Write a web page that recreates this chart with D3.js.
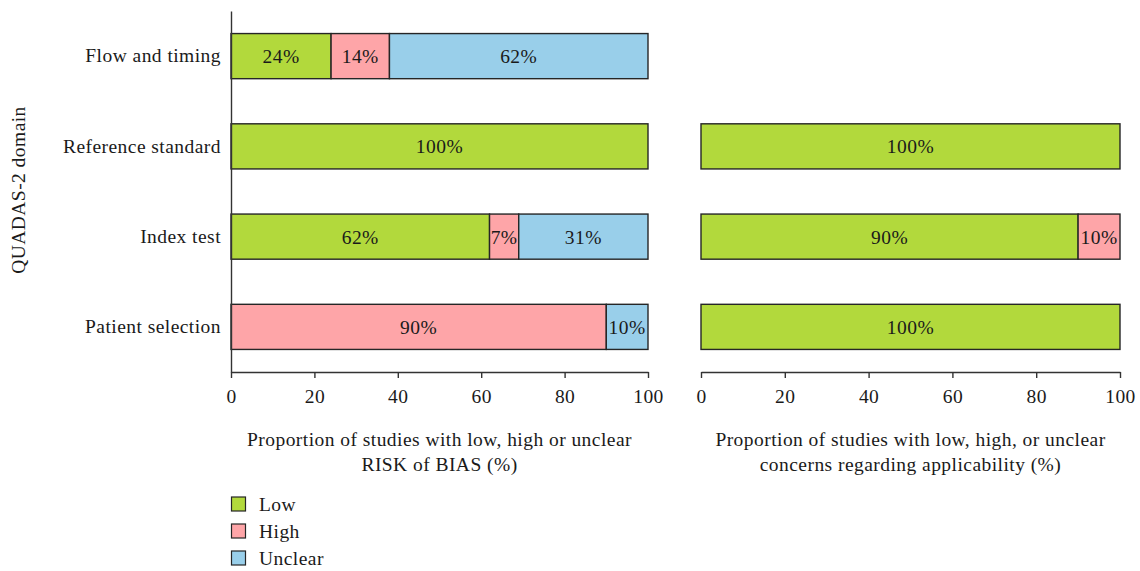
<!DOCTYPE html>
<html>
<head>
<meta charset="utf-8">
<script src="https://cdn.jsdelivr.net/npm/d3@7"></script>
<style>
  html, body { margin: 0; padding: 0; background: #fff; }
  svg { display: block; }
  svg text { font-family: "Liberation Serif", "Times New Roman", serif !important; fill: #1a1a1a; letter-spacing: 0.45px; }
</style>
</head>
<body>
<svg id="chart" width="1140" height="571"></svg>
<script>
// QUADAS-2 domains, top to bottom
const domains = ["Flow and timing", "Reference standard", "Index test", "Patient selection"];
const levels = ["Low", "High", "Unclear"];
const levelColors = ["#b2d93c", "#fea5a8", "#99cfea"];

// Risk of bias (%): Low, High, Unclear per domain
const biasLow     = [24, 100, 62, 0];
const biasHigh    = [14, 0, 7, 90];
const biasUnclear = [62, 0, 31, 10];

// Applicability concerns (%): no flow-and-timing row
const applDomains   = ["Reference standard", "Index test", "Patient selection"];
const applLow       = [100, 90, 100];
const applHigh      = [0, 10, 0];
const applUnclear   = [0, 0, 0];

const xTicks = [0, 20, 40, 60, 80, 100];
const biasTitle = ["Proportion of studies with low, high or unclear", "RISK of BIAS (%)"];
const applTitle = ["Proportion of studies with low, high, or unclear", "concerns regarding applicability (%)"];
const yTitle = "QUADAS-2 domain";

const FS = 19.5;
const svg = d3.select("#chart");
const axisY = 372;

const y = d3.scaleBand()
  .domain(domains)
  .range([11, axisY])
  .paddingInner(0.5)
  .paddingOuter(0.25);

function stackRows(names, low, high, unclear) {
  const rows = names.map((d, i) => ({ domain: d, Low: low[i], High: high[i], Unclear: unclear[i] }));
  return d3.stack().keys(levels)(rows);
}

function drawPanel(x0, x1, rowsNames, low, high, unclear, title, showYAxis) {
  const x = d3.scaleLinear().domain([0, 100]).range([x0, x1]);
  const g = svg.append("g");
  const series = stackRows(rowsNames, low, high, unclear);

  series.forEach((s, si) => {
    s.forEach(seg => {
      const v = seg[1] - seg[0];
      if (v <= 0) return;
      const dom = seg.data.domain;
      g.append("rect")
        .attr("x", x(seg[0]))
        .attr("y", y(dom))
        .attr("width", x(seg[1]) - x(seg[0]))
        .attr("height", y.bandwidth())
        .attr("fill", levelColors[si])
        .attr("stroke", "#262626")
        .attr("stroke-width", 1.4);
      g.append("text")
        .attr("x", (x(seg[0]) + x(seg[1])) / 2)
        .attr("y", y(dom) + y.bandwidth() / 2)
        .attr("dy", "0.36em")
        .attr("text-anchor", "middle")
        .attr("font-size", FS)
        .text(v + "%");
    });
  });

  // x axis
  const xa = g.append("g")
    .attr("transform", `translate(0,${axisY})`)
    .call(d3.axisBottom(x).tickValues(xTicks).tickSize(6).tickSizeOuter(0).tickPadding(11));
  xa.attr("font-size", FS);
  xa.select(".domain").attr("stroke", "#333").attr("stroke-width", 1.4);
  xa.selectAll(".tick line").attr("stroke", "#333").attr("stroke-width", 1.4);

  // x axis title
  const cx = (x0 + x1) / 2;
  title.forEach((t, i) => {
    g.append("text")
      .attr("x", cx)
      .attr("y", 446 + i * 25)
      .attr("text-anchor", "middle")
      .attr("font-size", FS)
      .text(t);
  });

  if (showYAxis) {
    const ya = g.append("g")
      .attr("transform", `translate(${x0},0)`)
      .call(d3.axisLeft(y).tickSize(0).tickPadding(10).tickSizeOuter(0));
    ya.attr("font-size", FS);
    ya.select(".domain").attr("stroke", "#333").attr("stroke-width", 1.4);
  }
}

drawPanel(231, 648, domains, biasLow, biasHigh, biasUnclear, biasTitle, true);
drawPanel(701, 1120, applDomains, applLow, applHigh, applUnclear, applTitle, false);

// y axis title
svg.append("text")
  .attr("transform", "translate(25,190) rotate(-90)")
  .attr("text-anchor", "middle")
  .attr("font-size", FS)
  .text(yTitle);

// legend
const lg = svg.append("g").attr("transform", "translate(231,497)");
levels.forEach((lv, i) => {
  lg.append("rect")
    .attr("x", 0.5)
    .attr("y", i * 27)
    .attr("width", 14)
    .attr("height", 14)
    .attr("fill", levelColors[i])
    .attr("stroke", "#262626")
    .attr("stroke-width", 1.2);
  lg.append("text")
    .attr("x", 28)
    .attr("y", i * 27 + 7)
    .attr("dy", "0.36em")
    .attr("font-size", FS)
    .text(lv);
});
</script>
</body>
</html>
